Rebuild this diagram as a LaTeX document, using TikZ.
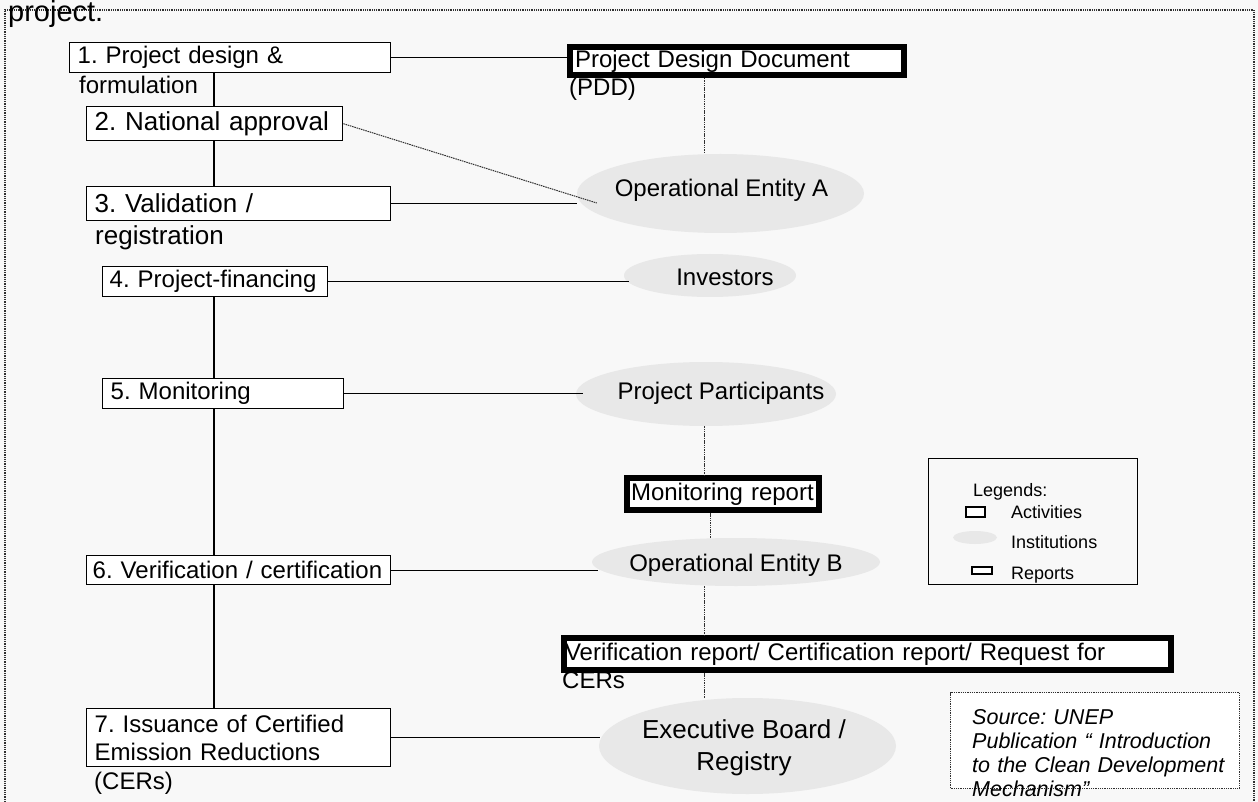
\documentclass[tikz,border=0pt]{standalone}
\usepackage{fontspec}
\setmainfont{Liberation Sans}
\usetikzlibrary{shapes.geometric,calc}
\definecolor{bgc}{HTML}{F8F8F8}
\definecolor{instc}{HTML}{E8E8E8}
\definecolor{dotc}{HTML}{303030}
\newcommand\fs[2]{\fontsize{#1pt}{#2pt}\selectfont}
\frenchspacing
\hyphenpenalty=10000
\begin{document}
\begin{tikzpicture}[x=1pt,y=-1pt,
  actbox/.style={draw=black, fill=white, line width=1.4pt, rectangle, anchor=north west, inner xsep=8pt, inner ysep=0pt, align=left},
  repbox/.style={draw=black, fill=white, line width=6pt, rectangle, anchor=north west, inner ysep=0pt, align=left},
  instn/.style={ellipse, fill=instc, draw=none, inner sep=0pt},
  link/.style={draw=black, line width=1.4pt},
  dotlink/.style={draw=dotc, line width=1pt, dash pattern=on 1.5pt off 0.8pt},
  plain/.style={inner sep=0pt, anchor=base west},
  lbl/.style={inner sep=0pt, align=center, font=\fs{24}{28}},
]
\fill[bgc] (0,0) rectangle (1258,802);
\useasboundingbox (0,0) rectangle (1258,802);

% outer dashed frame
\draw[dotc, line width=1.5pt, dash pattern=on 1pt off 0.8pt] (5,802) -- (5,10) -- (1254,10) -- (1254,802);
\node[plain, font=\fs{29}{34}] (ttl) at (8,22) {project.};

\coordinate (sp) at (214,0);
\coordinate (cx) at (704,0);
\coordinate (cx2) at (710,0);

% activities
\node[actbox, minimum height=30pt, text width=305pt, font=\fs{24}{28}] (b1) at (69,42) {1. Project design \&};
\node[plain, font=\fs{24}{28}] (b1t) at (79,94) {formulation};
\node[actbox, minimum height=34pt, text width=240pt, font=\fs{26}{30}] (b2) at (86,106) {2. National approval};
\node[actbox, minimum height=34pt, text width=288pt, font=\fs{26}{30}] (b3) at (86,186) {3. Validation /};
\node[plain, font=\fs{26}{30}] (b3t) at (95,245) {registration};
\node[actbox, inner xsep=7pt, minimum height=30pt, text width=211pt, font=\fs{24}{28}] (b4) at (102,266) {4. Project-financing};
\node[actbox, minimum height=30pt, text width=225pt, font=\fs{24}{28}] (b5) at (102,378) {5. Monitoring};
\node[actbox, inner xsep=6pt, minimum height=29pt, text width=292pt, font=\fs{24}{28}] (b6) at (86,555) {6. Verification / certification};
\node[actbox, minimum height=58pt, text width=288pt, font=\fs{24}{28.5}] (b7) at (86,708) {7. Issuance of Certified\\Emission Reductions};
\node[plain, font=\fs{24}{28}] (b7t) at (94,789) {(CERs)};

% reports
\node[repbox, inner xsep=5pt, minimum height=28pt, text width=324pt, font=\fs{24}{28}] (pdd) at (567,44) {Project Design Document};
\node[plain, font=\fs{24}{28}] (pddt) at (569,96) {(PDD)};
\node[repbox, inner xsep=4pt, minimum height=32pt, text width=184pt, font=\fs{24}{28}] (mr) at (624,475) {Monitoring report};
\node[repbox, inner xsep=1pt, minimum height=32pt, text width=605pt, font=\fs{24}{28}] (vr) at (561,635) {Verification report/ Certification report/ Request for};
\node[plain, font=\fs{24}{28}] (vrt) at (562,688) {CERs};

% institutions
\node[instn, minimum width=287pt, minimum height=79pt, label={[lbl, xshift=1pt, yshift=3.6pt]center:Operational Entity A}] (oea) at (720.5,193.5) {};
\node[instn, minimum width=172pt, minimum height=43pt, label={[lbl, xshift=15pt, yshift=-1.5pt]center:Investors}] (inv) at (710,275.5) {};
\node[instn, minimum width=260pt, minimum height=64pt, label={[lbl, xshift=15pt, yshift=1.1pt]center:Project Participants}] (pp) at (706,394) {};
\node[instn, minimum width=288pt, minimum height=48pt, label={[lbl, yshift=-3.7pt]center:Operational Entity B}] (oeb) at (736,562) {};
\node[instn, minimum width=297pt, minimum height=96pt, label={[lbl, font=\fs{26}{32}, xshift=-3.5pt, yshift=-2.2pt]center:Executive Board /\\Registry}] (eb) at (747.5,746) {};

% spine
\draw[link] (b1.south -| sp) -- (b2.north -| sp);
\draw[link] (b2.south -| sp) -- (b3.north -| sp);
\draw[link] (b4.south -| sp) -- (b5.north -| sp);
\draw[link] (b5.south -| sp) -- (b6.north -| sp);
\draw[link] (b6.south -| sp) -- (b7.north -| sp);

% horizontal links
\draw[link] (b1.east) -- (b1.east -| pdd.west);
\draw[dotlink] (b2.east) -- ([shift={(20pt,-9.5pt)}]oea.west);
\draw[link] (b3.east) -- (b3.east -| oea.west);
\draw[link] (b4.east) -- ([xshift=5pt]b4.east -| inv.west);
\draw[link] (b5.east) -- ([xshift=7pt]b5.east -| pp.west);
\draw[link] (b6.east) -- ([xshift=6pt]b6.east -| oeb.west);
\draw[link] (b7.east) -- ([xshift=1pt]b7.east -| eb.west);

% vertical dotted links
\draw[dotlink] (pdd.south -| cx) -- (oea.north -| cx);
\draw[dotlink] (pp.south -| cx) -- (mr.north -| cx);
\draw[dotlink] (mr.south -| cx2) -- (oeb.north -| cx2);
\draw[dotlink] (oeb.south -| cx) -- (vr.north -| cx);
\draw[dotlink] (vr.south -| cx) -- (eb.north -| cx);

% legend
\node[draw=black, line width=1.2pt, rectangle, anchor=north west, minimum width=209pt, minimum height=126pt, inner sep=0pt] (leg) at (928,458) {};
\node[plain, font=\fs{18}{21}] (legt) at (973,496) {Legends:};
\node[draw=black, fill=white, line width=1.5pt, rectangle, minimum width=19pt, minimum height=10pt, inner sep=0pt] (lga) at (975.5,512) {};
\node[plain, font=\fs{18}{21}] (lgat) at (1011,518) {Activities};
\node[instn, minimum width=44pt, minimum height=13pt] (lgi) at (975,537.5) {};
\node[plain, font=\fs{18}{21}] (lgit) at (1011,548) {Institutions};
\node[draw=black, fill=white, line width=1.5pt, rectangle, minimum width=20pt, minimum height=7pt, inner sep=0pt] (lgr) at (982,570.5) {};
\node[plain, font=\fs{18}{21}] (lgrt) at (1011,579) {Reports};

% source
\node[draw=dotc, fill=white, line width=1pt, dash pattern=on 1pt off 0.8pt, rectangle, anchor=north west, minimum width=289pt, minimum height=96pt, inner sep=0pt] (src) at (950,692) {};
\node[plain, text width=262pt, align=left, font=\fs{21.5}{24.3}\itshape] (srct) at (972,724) {Source: UNEP\\Publication “ Introduction\\to the Clean Development\\Mechanism”};
\end{tikzpicture}
\end{document}
